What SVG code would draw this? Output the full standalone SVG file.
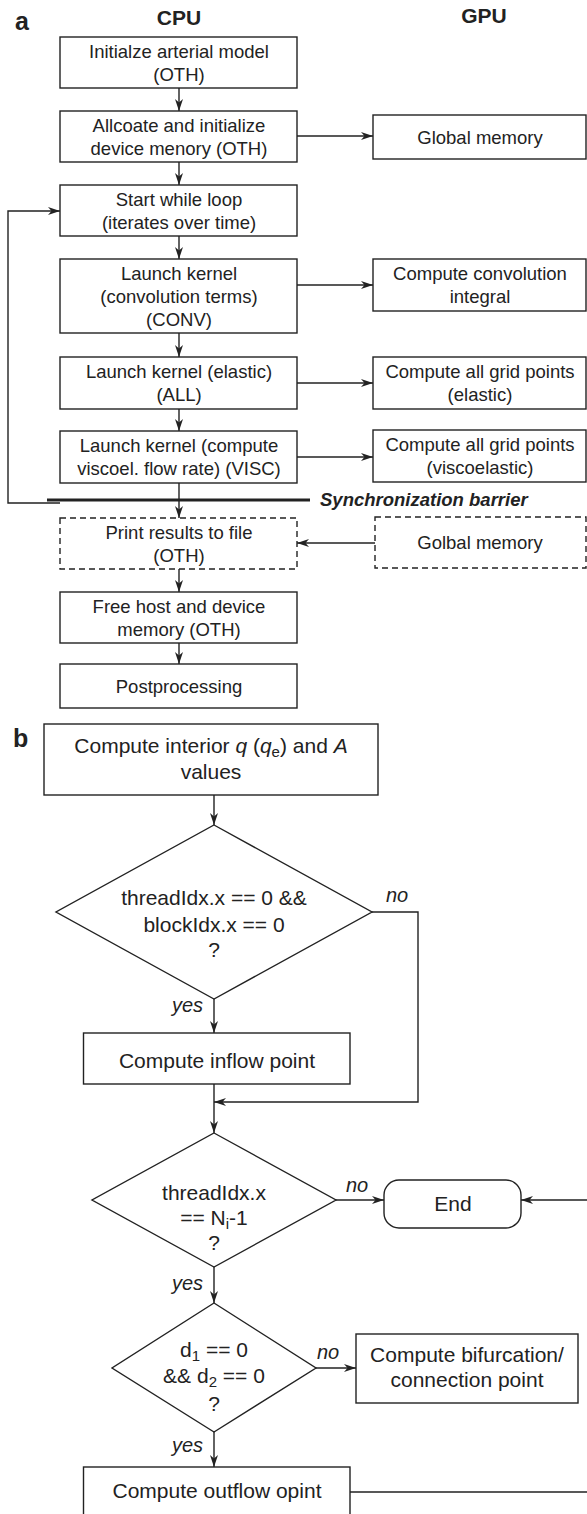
<svg xmlns="http://www.w3.org/2000/svg" width="587" height="1514" viewBox="0 0 587 1514">
  <style>
    text { font-family: "Liberation Sans", Arial, Helvetica, sans-serif; fill: #222; }
    .t { font-size: 18.5px; text-anchor: middle; }
    .tb { font-size: 21px; text-anchor: middle; }
    .lab { font-size: 20px; font-style: italic; }
    .hdr { font-size: 21px; font-weight: bold; text-anchor: middle; }
    .pan { font-size: 25px; font-weight: bold; }
    .box { fill: #fff; stroke: #222; stroke-width: 1.4; }
    .dash { fill: #fff; stroke: #222; stroke-width: 1.4; stroke-dasharray: 6 4; }
    .ln { fill: none; stroke: #222; stroke-width: 1.4; }
    .arr { fill: none; stroke: #222; stroke-width: 1.4; marker-end: url(#ah); }
  </style>
  <defs>
    <marker id="ah" viewBox="0 0 12 8" refX="12" refY="4" markerWidth="12" markerHeight="8" orient="auto" markerUnits="userSpaceOnUse">
      <path d="M0,0 L12,4 L0,8 L3.5,4 z" fill="#222"/>
    </marker>
  </defs>

  <!-- panel labels and column headers -->
  <text class="pan" x="15" y="30">a</text>
  <text class="hdr" x="179" y="25">CPU</text>
  <text class="hdr" x="484" y="23">GPU</text>
  <text class="pan" x="13" y="747">b</text>

  <!-- connectors -->
  <g id="connectors">
    <!-- part a, CPU chain -->
    <path class="arr" d="M179,88 V111"/>
    <path class="arr" d="M179,162 V185"/>
    <path class="arr" d="M179,236 V259"/>
    <path class="arr" d="M179,333 V357"/>
    <path class="arr" d="M179,409 V431"/>
    <path class="arr" d="M179,483 V518"/>
    <path class="arr" d="M179,569 V592"/>
    <path class="arr" d="M179,643 V664"/>
    <!-- loop back to the while loop -->
    <path class="arr" d="M60,503 H8 V211 H60"/>
    <!-- synchronization barrier -->
    <line x1="47" y1="500" x2="310" y2="500" stroke="#222" stroke-width="3"/>
    <!-- CPU to GPU -->
    <path class="arr" d="M297,136 H373"/>
    <path class="arr" d="M297,285 H373"/>
    <path class="arr" d="M297,383 H373"/>
    <path class="arr" d="M297,457 H373"/>
    <path class="arr" d="M375,543 H297"/>

    <!-- part b -->
    <path class="arr" d="M214,795 V825"/>
    <path class="arr" d="M214,999 V1033"/>
    <path class="arr" d="M214,1084 V1133"/>
    <path class="arr" d="M372,912 H418 V1102 H214"/>
    <path class="arr" d="M336,1200 H384"/>
    <path class="arr" d="M214,1267 V1303"/>
    <path class="arr" d="M316,1368 H356"/>
    <path class="arr" d="M214,1432 V1467"/>
    <path class="arr" d="M350,1492 H592 V1200 H521"/>
  </g>

  <!-- part a: CPU nodes -->
  <g id="init">
    <rect class="box" x="60" y="37" width="237" height="51"/>
    <text class="t" x="179" y="57.5">Initialze arterial model</text>
    <text class="t" x="179" y="80.5">(OTH)</text>
  </g>
  <g id="alloc">
    <rect class="box" x="60" y="111" width="237" height="51"/>
    <text class="t" x="179" y="131.5">Allcoate and initialize</text>
    <text class="t" x="179" y="154.5">device menory (OTH)</text>
  </g>
  <g id="loop">
    <rect class="box" x="60" y="185" width="237" height="51"/>
    <text class="t" x="179" y="205.5">Start while loop</text>
    <text class="t" x="179" y="228.5">(iterates over time)</text>
  </g>
  <g id="conv">
    <rect class="box" x="60" y="259" width="237" height="74"/>
    <text class="t" x="179" y="279.5">Launch kernel</text>
    <text class="t" x="179" y="302.5">(convolution terms)</text>
    <text class="t" x="179" y="325.5">(CONV)</text>
  </g>
  <g id="elastic">
    <rect class="box" x="60" y="357" width="237" height="52"/>
    <text class="t" x="179" y="378">Launch kernel (elastic)</text>
    <text class="t" x="179" y="401">(ALL)</text>
  </g>
  <g id="visc">
    <rect class="box" x="60" y="431" width="237" height="52"/>
    <text class="t" x="179" y="452">Launch kernel (compute</text>
    <text class="t" x="179" y="475">viscoel. flow rate) (VISC)</text>
  </g>
  <g id="barrier-label">
    <text x="320" y="506" style="font-size:18.5px;font-weight:bold;font-style:italic">Synchronization barrier</text>
  </g>
  <g id="print">
    <rect class="dash" x="60" y="518" width="237" height="51"/>
    <text class="t" x="179" y="538.5">Print results to file</text>
    <text class="t" x="179" y="561.5">(OTH)</text>
  </g>
  <g id="free">
    <rect class="box" x="60" y="592" width="237" height="51"/>
    <text class="t" x="179" y="612.5">Free host and device</text>
    <text class="t" x="179" y="635.5">memory (OTH)</text>
  </g>
  <g id="post">
    <rect class="box" x="60" y="664" width="237" height="44"/>
    <text class="t" x="179" y="692.5">Postprocessing</text>
  </g>

  <!-- part a: GPU nodes -->
  <g id="gmem">
    <rect class="box" x="373" y="115" width="213" height="44"/>
    <text class="t" x="480" y="143.5">Global memory</text>
  </g>
  <g id="convint">
    <rect class="box" x="373" y="259" width="213" height="52"/>
    <text class="t" x="480" y="280">Compute convolution</text>
    <text class="t" x="480" y="303">integral</text>
  </g>
  <g id="gridel">
    <rect class="box" x="373" y="357" width="213" height="52"/>
    <text class="t" x="480" y="378">Compute all grid points</text>
    <text class="t" x="480" y="401">(elastic)</text>
  </g>
  <g id="gridvisc">
    <rect class="box" x="373" y="430" width="213" height="52"/>
    <text class="t" x="480" y="451">Compute all grid points</text>
    <text class="t" x="480" y="474">(viscoelastic)</text>
  </g>
  <g id="gmem2">
    <rect class="dash" x="375" y="517" width="211" height="51"/>
    <text class="t" x="480" y="549">Golbal memory</text>
  </g>

  <!-- part b nodes -->
  <g id="interior">
    <rect class="box" x="44" y="724" width="334" height="71"/>
    <text class="tb" x="211" y="753">Compute interior <tspan font-style="italic">q</tspan> (<tspan font-style="italic">q</tspan><tspan dy="4" font-size="15px">e</tspan><tspan dy="-4">) and </tspan><tspan font-style="italic">A</tspan></text>
    <text class="tb" x="211" y="779">values</text>
  </g>
  <g id="dec1">
    <polygon class="box" points="214,825 372,912 214,999 56,912"/>
    <text class="tb" x="214" y="905">threadIdx.x == 0 &amp;&amp;</text>
    <text class="tb" x="214" y="932">blockIdx.x == 0</text>
    <text class="tb" x="214" y="957">?</text>
  </g>
  <g id="inflow">
    <rect class="box" x="83.5" y="1033" width="266.5" height="51"/>
    <text class="tb" x="217" y="1068">Compute inflow point</text>
  </g>
  <g id="dec2">
    <polygon class="box" points="214,1133 336,1200 214,1267 92,1200"/>
    <text class="tb" x="214" y="1200">threadIdx.x</text>
    <text class="tb" x="214" y="1225">== N<tspan dy="4" font-size="15px">i</tspan><tspan dy="-4">-1</tspan></text>
    <text class="tb" x="214" y="1250">?</text>
  </g>
  <g id="end">
    <rect class="box" x="384" y="1180" width="137" height="48" rx="15" ry="15"/>
    <text class="tb" x="453" y="1211">End</text>
  </g>
  <g id="dec3">
    <polygon class="box" points="214,1303 316,1368 214,1432 112,1368"/>
    <text class="tb" x="214" y="1357">d<tspan dy="4" font-size="15px">1</tspan><tspan dy="-4"> == 0</tspan></text>
    <text class="tb" x="214" y="1383">&amp;&amp; d<tspan dy="4" font-size="15px">2</tspan><tspan dy="-4"> == 0</tspan></text>
    <text class="tb" x="214" y="1411">?</text>
  </g>
  <g id="bifur">
    <rect class="box" x="356" y="1334" width="222" height="69"/>
    <text class="tb" x="467" y="1362">Compute bifurcation/</text>
    <text class="tb" x="467" y="1387">connection point</text>
  </g>
  <g id="outflow">
    <rect class="box" x="83.5" y="1467" width="266.5" height="50"/>
    <text class="tb" x="217" y="1498">Compute outflow opint</text>
  </g>

  <!-- branch labels -->
  <g id="branch-labels">
    <text class="lab" x="386" y="902">no</text>
    <text class="lab" x="172" y="1012">yes</text>
    <text class="lab" x="346" y="1192">no</text>
    <text class="lab" x="172" y="1290">yes</text>
    <text class="lab" x="317" y="1359">no</text>
    <text class="lab" x="172" y="1452">yes</text>
  </g>
</svg>
